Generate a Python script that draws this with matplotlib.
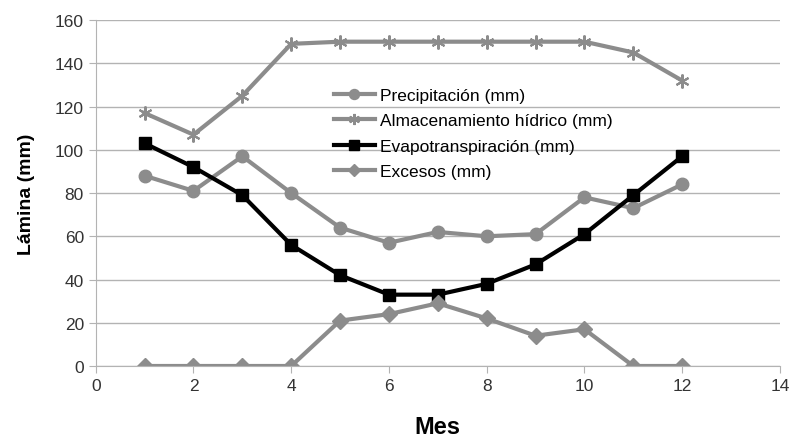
import matplotlib
matplotlib.use("Agg")
import matplotlib.pyplot as plt

plt.rcParams['font.family'] = ['Liberation Sans', 'DejaVu Sans']

mes = [1, 2, 3, 4, 5, 6, 7, 8, 9, 10, 11, 12]
precipitacion = [88, 81, 97, 80, 64, 57, 62, 60, 61, 78, 73, 84]
almacenamiento = [117, 107, 125, 149, 150, 150, 150, 150, 150, 150, 145, 132]
evapotranspiracion = [103, 92, 79, 56, 42, 33, 33, 38, 47, 61, 79, 97]
excesos = [0, 0, 0, 0, 21, 24, 29, 22, 14, 17, 0, 0]

grey = "#8c8c8c"

fig = plt.figure(figsize=(7.91, 4.39), dpi=100)
# x axis runs 96..780 px, y axis 21..367 px
ax = fig.add_axes([0.121, 0.164, 0.865, 0.788])

ax.plot(mes, precipitacion, color=grey, lw=3, marker="o", ms=9,
        label="Precipitación (mm)")
ax.plot(mes, almacenamiento, color=grey, lw=3, marker=(6, 2, 0), ms=10, mew=1.5,
        label="Almacenamiento hídrico (mm)")
ax.plot(mes, evapotranspiracion, color="black", lw=3, marker="s", ms=9,
        label="Evapotranspiración (mm)")
ax.plot(mes, excesos, color=grey, lw=3, marker="D", ms=8,
        label="Excesos (mm)")

ax.set_xlim(0, 14)
ax.set_ylim(0, 160)
ax.set_xticks(range(0, 15, 2))
ax.set_yticks(range(0, 161, 20))
ax.grid(axis="y", color="#b3b3b3", lw=1)
ax.set_axisbelow(True)
for s in ["top", "right"]:
    ax.spines[s].set_visible(False)
for s in ["left", "bottom"]:
    ax.spines[s].set_color("#b3b3b3")
ax.tick_params(colors="#b3b3b3", labelcolor="#333333", labelsize=12.5, length=5)

ax.set_xlabel("Mes", fontsize=17, fontweight="bold", labelpad=16,
              family=["Liberation Sans Narrow", "Liberation Sans", "DejaVu Sans"])
ax.set_ylabel("Lámina (mm)", fontsize=14, fontweight="bold", labelpad=14)

ax.legend(loc="upper left", bbox_to_anchor=(0.335, 0.83), frameon=False,
          fontsize=12.5, handlelength=2.4, handletextpad=0.3, labelspacing=0.6,
          borderpad=0, markerscale=0.8)

fig.savefig("out.png", dpi=100)
